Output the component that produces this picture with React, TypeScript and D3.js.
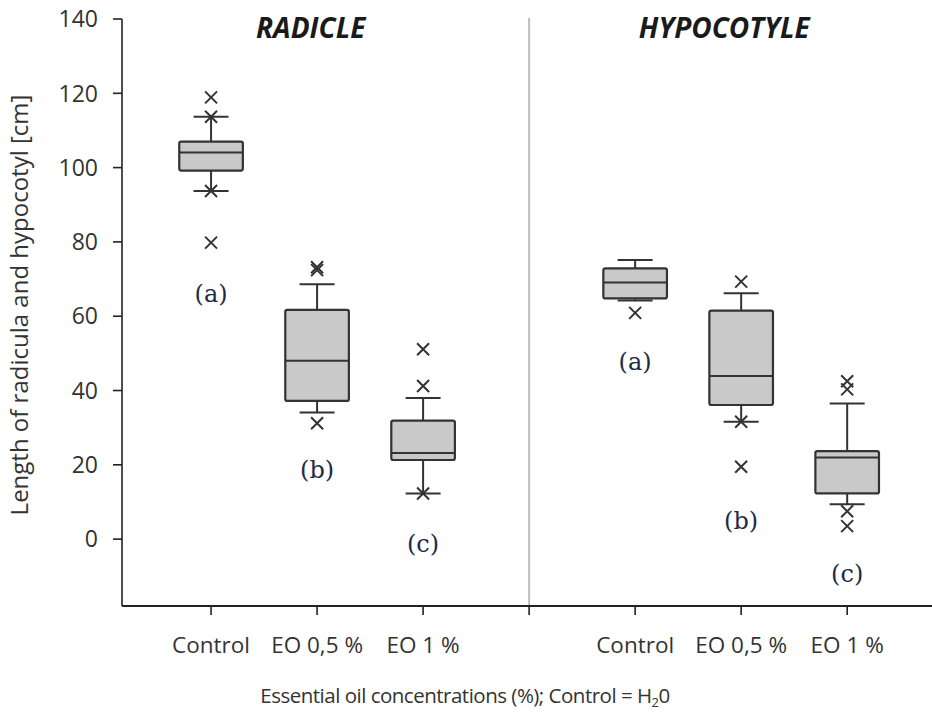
import React from "react";
import * as d3 from "d3";

const groups = ["RADICLE", "HYPOCOTYLE"];
const treatments = ["Control", "EO 0,5 %", "EO 1 %"];
const letters = ["(a)", "(b)", "(c)"];
const yTicks = [0, 20, 40, 60, 80, 100, 120, 140];

// RADICLE
const radicleQ1 = [99.2, 37.2, 21.3];
const radicleMedian = [104.1, 48.0, 23.2];
const radicleQ3 = [107.0, 61.7, 31.9];
const radicleWhiskerLow = [93.7, 34.1, 12.3];
const radicleWhiskerHigh = [113.7, 68.6, 38.0];
const radicleOutliers = [
  [118.9, 113.7, 93.7, 79.8],
  [73.2, 72.4, 31.2],
  [51.1, 41.2, 12.3],
];
const radicleLetterY = [66.2, 18.6, -1.2];

// HYPOCOTYLE
const hypoQ1 = [64.8, 36.1, 12.3];
const hypoMedian = [69.1, 43.9, 22.0];
const hypoQ3 = [72.9, 61.5, 23.7];
const hypoWhiskerLow = [64.2, 31.6, 9.4];
const hypoWhiskerHigh = [75.1, 66.2, 36.5];
const hypoOutliers = [
  [60.9],
  [69.3, 31.6, 19.5],
  [42.5, 40.3, 7.5, 3.5],
];
const hypoLetterY = [47.7, 4.9, -9.2];

const W = 932;
const H = 716;
const FONT = "'Open Sans', 'DejaVu Sans', sans-serif";
const INK = "#333";

export default function App() {
  const x = d3.scaleLinear().domain([-0.84, 6.8]).range([122, 932]);
  const y = d3.scaleLinear().domain([-18, 140]).range([606, 19]);
  const step = x(1) - x(0);
  const boxW = step * 0.6;
  const capW = step * 0.33;

  const series = [
    { q1: radicleQ1, med: radicleMedian, q3: radicleQ3, lo: radicleWhiskerLow, hi: radicleWhiskerHigh, out: radicleOutliers, ly: radicleLetterY },
    { q1: hypoQ1, med: hypoMedian, q3: hypoQ3, lo: hypoWhiskerLow, hi: hypoWhiskerHigh, out: hypoOutliers, ly: hypoLetterY },
  ];
  const titlePos = [0.94, 4.84];

  const x0 = x.range()[0];
  const x1 = x.range()[1];
  const yb = y.range()[0];
  const yt = y.range()[1];
  const sepX = x(3);

  return (
    <svg width={W} height={H} style={{ position: "absolute", left: 0, top: 0, background: "#fff" }} fontFamily={FONT}>
      {/* separator */}
      <line x1={sepX} x2={sepX} y1={yt - 1} y2={yb} stroke="#bdbdbd" strokeWidth={2} />

      {/* group titles */}
      {groups.map((g, gi) => (
        <text key={g} x={x(titlePos[gi])} y={38} textAnchor="middle" fontSize={28} fontWeight="bold" fontStyle="italic" fill="#1a1a1a">
          {g}
        </text>
      ))}

      {/* boxes */}
      {series.map((s, gi) =>
        treatments.map((t, ti) => {
          const cx = x(gi * 4 + ti);
          return (
            <g key={`${gi}-${ti}`}>
              <line x1={cx} x2={cx} y1={y(s.hi[ti])} y2={y(s.q3[ti])} stroke={INK} strokeWidth={2} />
              <line x1={cx} x2={cx} y1={y(s.q1[ti])} y2={y(s.lo[ti])} stroke={INK} strokeWidth={2} />
              <line x1={cx - capW / 2} x2={cx + capW / 2} y1={y(s.hi[ti])} y2={y(s.hi[ti])} stroke={INK} strokeWidth={2} />
              <line x1={cx - capW / 2} x2={cx + capW / 2} y1={y(s.lo[ti])} y2={y(s.lo[ti])} stroke={INK} strokeWidth={2} />
              <rect x={cx - boxW / 2} y={y(s.q3[ti])} width={boxW} height={y(s.q1[ti]) - y(s.q3[ti])} fill="#c9c9c9" stroke={INK} strokeWidth={2.2} rx={2} />
              <line x1={cx - boxW / 2} x2={cx + boxW / 2} y1={y(s.med[ti])} y2={y(s.med[ti])} stroke={INK} strokeWidth={2} />
              {s.out[ti].map((v, k) => {
                const py = y(v);
                const r = 6;
                return (
                  <path key={k} d={`M${cx - r},${py - r}L${cx + r},${py + r}M${cx - r},${py + r}L${cx + r},${py - r}`} stroke={INK} strokeWidth={2} fill="none" />
                );
              })}
              <text x={cx} y={y(s.ly[ti])} dy="0.35em" textAnchor="middle" fontSize={24} fontFamily="'DejaVu Serif', 'Liberation Serif', serif" fill="#1e2b48">
                {letters[ti]}
              </text>
            </g>
          );
        })
      )}

      {/* y axis */}
      <line x1={x0} x2={x0} y1={yt} y2={yb} stroke="#222" strokeWidth={1.6} />
      {yTicks.map((v) => (
        <g key={v}>
          <line x1={x0 - 9} x2={x0} y1={y(v)} y2={y(v)} stroke="#222" strokeWidth={1.6} />
          <text x={x0 - 24} y={y(v)} dy="0.36em" textAnchor="end" fontSize={23} fill={INK}>
            {v}
          </text>
        </g>
      ))}

      {/* x axis */}
      <line x1={x0} x2={x1} y1={yb} y2={yb} stroke="#222" strokeWidth={1.8} />
      {d3.range(0, 7).map((i) => (
        <line key={i} x1={x(i)} x2={x(i)} y1={yb} y2={yb + 9} stroke="#222" strokeWidth={1.6} />
      ))}
      {groups.map((g, gi) =>
        treatments.map((t, ti) => (
          <text key={`${g}-${t}`} x={x(gi * 4 + ti)} y={653} textAnchor="middle" fontSize={22.5} fill={INK}>
            {t}
          </text>
        ))
      )}

      {/* axis titles */}
      <text x={465} y={703} textAnchor="middle" fontSize={20.5} letterSpacing={-0.5} fill={INK}>
        Essential oil concentrations (%); Control = H
        <tspan fontSize={13} dy={4}>2</tspan>
        <tspan dy={-4}>0</tspan>
      </text>
      <text transform={`translate(28,${305}) rotate(-90)`} textAnchor="middle" fontSize={24} fill={INK}>
        Length of radicula and hypocotyl [cm]
      </text>
    </svg>
  );
}
